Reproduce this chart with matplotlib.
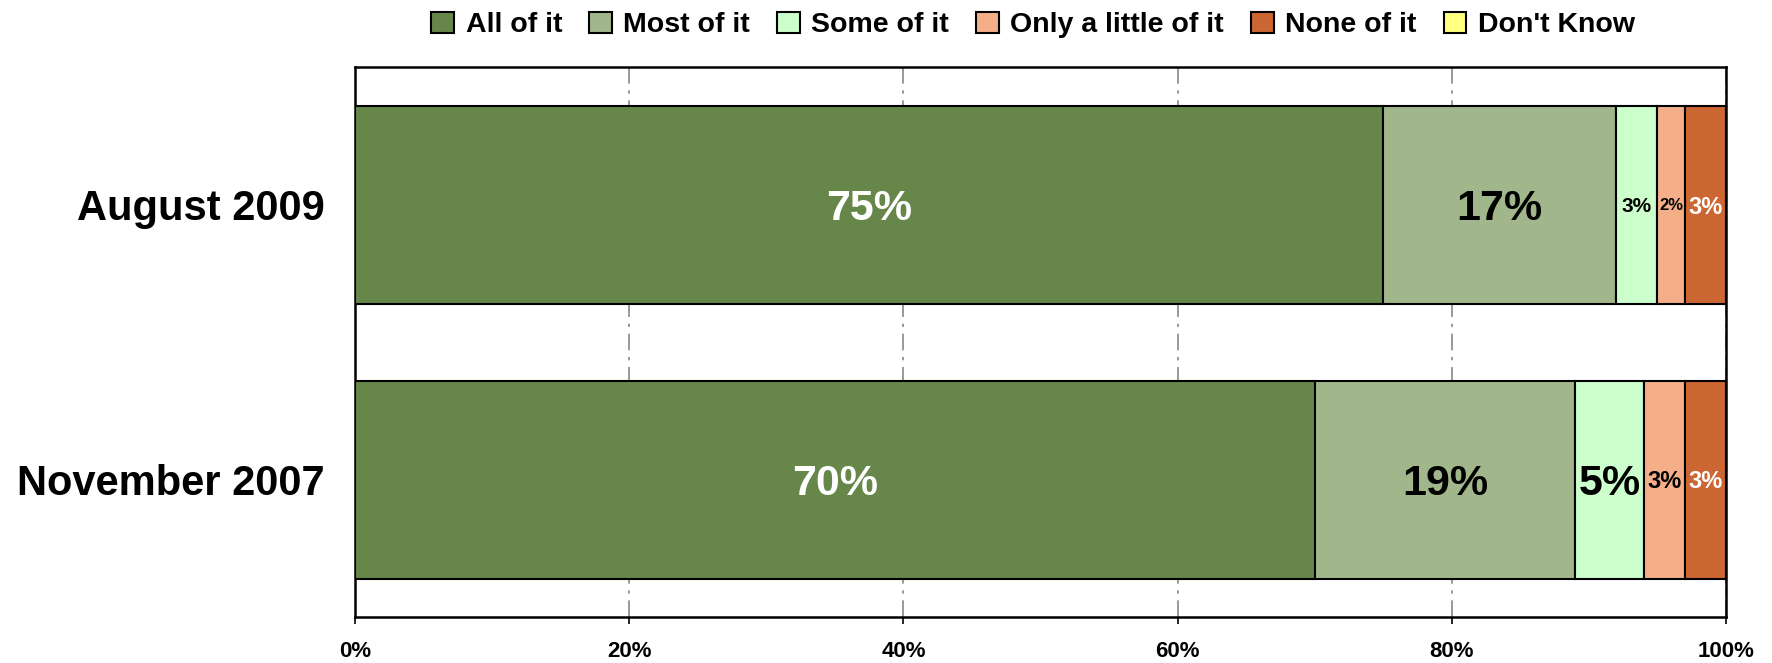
import matplotlib
matplotlib.use("Agg")
import matplotlib.pyplot as plt
import numpy as np

plt.rcParams['font.family'] = ['Liberation Sans', 'DejaVu Sans']
plt.rcParams['font.weight'] = 'bold'

# ---- data ----
categories = ["August 2009", "November 2007"]
series_names = ["All of it", "Most of it", "Some of it", "Only a little of it", "None of it", "Don't Know"]
all_of_it = [75, 70]
most_of_it = [17, 19]
some_of_it = [3, 5]
only_a_little = [2, 3]
none_of_it = [3, 3]
dont_know = [0, 0]
x_tick_labels = ["0%", "20%", "40%", "60%", "80%", "100%"]

# ---- style ----
colors = ["#67874A", "#A1B68A", "#CCFFCC", "#F4AF88", "#CC6633", "#FFFF80"]
label_colors = ["white", "black", "black", "black", "white", "black"]
# font size per (category, series)
label_sizes = [[31, 31, 15, 12, 17, 12],
               [31, 31, 31, 17, 17, 12]]

series = [all_of_it, most_of_it, some_of_it, only_a_little, none_of_it, dont_know]

fig = plt.figure(figsize=(17.72, 6.63), dpi=100)
ax = fig.add_axes([355/1772, 1-617/663, (1726-355)/1772, (617-67)/663])

ypos = np.arange(len(categories))
left = np.zeros(len(categories))
bar_h = 0.72
for i, (name, vals) in enumerate(zip(series_names, series)):
    vals = np.array(vals, dtype=float)
    ax.barh(ypos, vals, left=left, height=bar_h, color=colors[i],
            edgecolor="black", linewidth=1.5, label=name, zorder=3)
    for j, v in enumerate(vals):
        if v > 0:
            ax.text(left[j] + v/2, ypos[j], f"{int(v)}%", ha="center", va="center_baseline",
                    color=label_colors[i], fontsize=label_sizes[j][i],
                    fontweight="bold", zorder=4)
    left += vals

ax.set_xlim(0, 100)
ax.set_ylim(1.5, -0.5)
ax.set_yticks(ypos)
ax.set_yticklabels(categories, fontsize=30, fontweight="bold")
for lab in ax.get_yticklabels():
    lab.set_va("center_baseline")
ax.set_xticks(np.arange(0, 101, 20))
ax.set_xticklabels(x_tick_labels, fontsize=16, fontweight="bold")
ax.tick_params(axis="y", length=0, pad=22)
ax.tick_params(axis="x", direction="out", length=5, width=1.2, pad=12)
ax.xaxis.grid(True, color="#888888", linestyle=(0, (10, 4, 2, 4)), linewidth=1.2, zorder=0)
ax.set_axisbelow(True)
for s in ax.spines.values():
    s.set_linewidth(1.8)
    s.set_color("black")

handles, labels = ax.get_legend_handles_labels()
leg = fig.legend(handles, labels, loc="center", bbox_to_anchor=(0.583, 1-25/663), ncol=6,
                 frameon=False, fontsize=20.5, handlelength=0.8, handleheight=0.8,
                 handletextpad=0.4, columnspacing=0.95, borderaxespad=0)
for t in leg.get_texts():
    t.set_fontweight("bold")

fig.savefig("out.png", dpi=100)
